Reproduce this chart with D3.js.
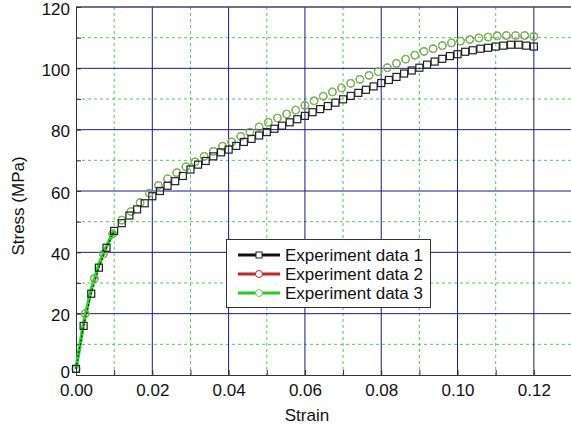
<html>
<head>
<script src="https://d3js.org/d3.v7.min.js"></script>
<style>
  body { margin: 0; background: #fff; }
  text { font-family: Arial, "Liberation Sans", sans-serif; fill: #111; }
</style>
</head>
<body>
<svg width="571" height="429"></svg>
<script>
// experiment 1 (squares)
var strain1 = [0, 0.002, 0.004, 0.006, 0.008, 0.010, 0.012, 0.014, 0.016, 0.018,
  0.020, 0.022, 0.024, 0.026, 0.028, 0.030, 0.032, 0.034, 0.036, 0.038,
  0.040, 0.042, 0.044, 0.046, 0.048, 0.050, 0.052, 0.054, 0.056, 0.058,
  0.060, 0.062, 0.064, 0.066, 0.068, 0.070, 0.072, 0.074, 0.076, 0.078,
  0.080, 0.082, 0.084, 0.086, 0.088, 0.090, 0.092, 0.094, 0.096, 0.098,
  0.100, 0.102, 0.104, 0.106, 0.108, 0.110, 0.112, 0.114, 0.116, 0.118, 0.120];
var stress1 = [2, 16, 26.5, 35, 41.5, 47, 49.5, 52, 54, 56,
  58.3, 60, 61.7, 63.2, 64.9, 67, 68.6, 69.8, 71.3, 72.6,
  73.5, 74.7, 76, 77, 78.1, 79.2, 80.3, 81.3, 82.4, 83.4,
  84.5, 85.7, 86.7, 87.7, 88.8, 89.9, 91, 92, 93, 94.1,
  95.2, 96.2, 97.2, 98.3, 99.3, 100.2, 101.2, 102.2, 103.1, 104,
  104.6, 105.4, 105.9, 106.4, 106.7, 107.1, 107.4, 107.7, 107.7, 107.4, 107.1];

// experiments 2 and 3 (circles); 2 sits under 3
var strain3 = [0, 0.0024, 0.0048, 0.0072, 0.0096, 0.012, 0.0144, 0.0168, 0.0192, 0.0216,
  0.024, 0.0264, 0.0288, 0.0312, 0.0336, 0.036, 0.0384, 0.0408, 0.0432, 0.0456,
  0.048, 0.0504, 0.0528, 0.0552, 0.0576, 0.060, 0.0624, 0.0648, 0.0672, 0.0696,
  0.072, 0.0744, 0.0768, 0.0792, 0.0816, 0.084, 0.0864, 0.0888, 0.0912, 0.0936,
  0.096, 0.0984, 0.1008, 0.1032, 0.1056, 0.108, 0.1104, 0.1128, 0.1152, 0.1176, 0.120];
var stress3 = [2, 20, 31.5, 39.5, 46, 50.5, 53.3, 56.2, 59.3, 61.8,
  64, 66, 67.9, 69.5, 71.3, 72.9, 74.6, 76, 77.8, 79.2,
  80.9, 82.4, 83.8, 85.1, 86.4, 87.9, 89.4, 90.9, 92.3, 93.6,
  95.1, 96.4, 97.7, 98.9, 100.2, 101.6, 103, 104.3, 105.5, 106.4,
  107.4, 108.3, 108.9, 109.4, 109.9, 110.2, 110.6, 110.7, 110.7, 110.7, 110.4];
var stress2 = stress3.slice();

// short solid segments at the start of the curves
var lineStrain = [0, 0.002, 0.004, 0.006, 0.008, 0.010];
var lineStress1 = [2, 16, 26.5, 35, 41.5, 47];
var lineStress3 = [2, 17, 28, 36, 42, 47];

var xTicks = [0, 0.02, 0.04, 0.06, 0.08, 0.10, 0.12];
var yTicks = [0, 20, 40, 60, 80, 100, 120];
var xMinor = [0.01, 0.03, 0.05, 0.07, 0.09, 0.11, 0.13];
var yMinor = [10, 30, 50, 70, 90, 110];
var names = ["Experiment data 1", "Experiment data 2", "Experiment data 3"];

var pLeft = 76, pTop = 7, pRight = 572, pBottom = 375;
var svg = d3.select("svg");

var x = d3.scaleLinear().domain([0, 0.13]).range([pLeft, pRight]);
var y = d3.scaleLinear().domain([0, 120]).range([pBottom, pTop]);

// minor grid
svg.append("g").selectAll("line").data(xMinor).join("line")
  .attr("x1", d => x(d)).attr("x2", d => x(d))
  .attr("y1", pTop).attr("y2", pBottom)
  .attr("stroke", "#4ccf4c").attr("stroke-dasharray", "3,3");
svg.append("g").selectAll("line").data(yMinor).join("line")
  .attr("x1", pLeft).attr("x2", pRight)
  .attr("y1", d => y(d)).attr("y2", d => y(d))
  .attr("stroke", "#4ccf4c").attr("stroke-dasharray", "3,3");

// major grid
svg.append("g").selectAll("line").data(xTicks.slice(1)).join("line")
  .attr("x1", d => x(d)).attr("x2", d => x(d))
  .attr("y1", pTop).attr("y2", pBottom)
  .attr("stroke", "#1a1a8a");
svg.append("g").selectAll("line").data(yTicks.slice(1)).join("line")
  .attr("x1", pLeft).attr("x2", pRight)
  .attr("y1", d => y(d)).attr("y2", d => y(d))
  .attr("stroke", "#1a1a8a");

// frame
svg.append("line").attr("x1", pLeft).attr("x2", pRight).attr("y1", pTop).attr("y2", pTop)
  .attr("stroke", "#555");

// axes
var xAxis = svg.append("g").attr("transform", "translate(0," + pBottom + ")")
  .call(d3.axisBottom(x).tickValues(xTicks.concat(xMinor)).tickSize(-5).tickPadding(9)
    .tickFormat(d => xTicks.indexOf(d) >= 0 ? d3.format(".2f")(d) : ""));
var yAxis = svg.append("g").attr("transform", "translate(" + pLeft + ",0)")
  .call(d3.axisLeft(y).tickValues(yTicks.concat(yMinor)).tickSize(-5).tickPadding(6)
    .tickFormat(d => yTicks.indexOf(d) >= 0 ? d : ""));
[xAxis, yAxis].forEach(function (a) {
  a.select(".domain").attr("stroke", "#333");
  a.selectAll(".tick line").attr("stroke", "#333");
  a.selectAll("text").style("font-size", "17px").attr("fill", "#111")
    .style("font-family", "Arial, 'Liberation Sans', sans-serif");
});
yAxis.selectAll(".tick text").attr("dy", d => d == 0 ? "0.15em" : "0.42em");

svg.append("text").attr("x", 307).attr("y", 421)
  .attr("text-anchor", "middle").style("font-size", "17px").text("Strain");
svg.append("text").attr("transform", "translate(24,206) rotate(-90)")
  .attr("text-anchor", "middle").style("font-size", "17px").text("Stress (MPa)");

// curves
var pts1 = strain1.map((s, i) => [s, stress1[i]]);
var pts2 = strain3.map((s, i) => [s, stress2[i]]);
var pts3 = strain3.map((s, i) => [s, stress3[i]]);
var line = d3.line().x(d => x(d[0])).y(d => y(d[1]));

svg.append("path").datum(lineStrain.map((s, i) => [s, lineStress3[i]]))
  .attr("d", line).attr("fill", "none").attr("stroke", "#22dd22").attr("stroke-width", 3.5);
svg.append("path").datum(lineStrain.map((s, i) => [s, lineStress1[i]]))
  .attr("d", line).attr("fill", "none").attr("stroke", "#111").attr("stroke-width", 1.2)
  .attr("stroke-dasharray", "2,2");

svg.append("g").selectAll("circle").data(pts2).join("circle")
  .attr("cx", d => x(d[0])).attr("cy", d => y(d[1])).attr("r", 3.8)
  .attr("fill", "none").attr("stroke", "#cc2222");
svg.append("g").selectAll("circle").data(pts3).join("circle")
  .attr("cx", d => x(d[0])).attr("cy", d => y(d[1])).attr("r", 3.8)
  .attr("fill", "none").attr("stroke", "#5ad25a").attr("stroke-width", 1.1);
svg.append("g").selectAll("rect").data(pts1).join("rect")
  .attr("x", d => x(d[0]) - 3.5).attr("y", d => y(d[1]) - 3.5)
  .attr("width", 7).attr("height", 7)
  .attr("fill", "none").attr("stroke", "#222").attr("stroke-width", 1.2);

// legend
var lg = svg.append("g");
lg.append("rect").attr("x", 226.5).attr("y", 239.5).attr("width", 204).attr("height", 68)
  .attr("fill", "#fff").attr("stroke", "#333");
var colors = ["#111", "#cc2222", "#22cc22"];
names.forEach(function (n, i) {
  var ly = 255 + i * 19;
  lg.append("line").attr("x1", 238).attr("x2", 280).attr("y1", ly).attr("y2", ly)
    .attr("stroke", colors[i]).attr("stroke-width", 3);
  if (i == 0) {
    lg.append("rect").attr("x", 256).attr("y", ly - 3).attr("width", 6).attr("height", 6)
      .attr("fill", "#fff").attr("stroke", "#222");
  } else {
    lg.append("circle").attr("cx", 259).attr("cy", ly).attr("r", 3.5)
      .attr("fill", "#fff").attr("stroke", i == 1 ? "#cc2222" : "#5ad25a");
  }
  lg.append("text").attr("x", 285).attr("y", ly + 6).style("font-size", "17px").text(n);
});
</script>
</body>
</html>
